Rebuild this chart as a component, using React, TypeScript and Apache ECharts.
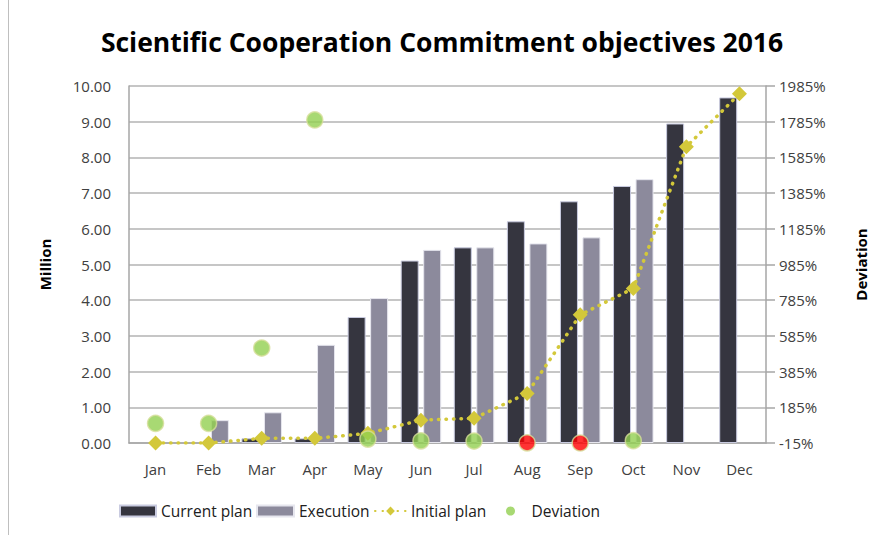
import React, { useEffect, useRef } from "react";
import * as echarts from "echarts";

const months = ["Jan", "Feb", "Mar", "Apr", "May", "Jun", "Jul", "Aug", "Sep", "Oct", "Nov", "Dec"];
const currentPlan = [null, null, 0.13, 0.13, 3.53, 5.11, 5.48, 6.21, 6.77, 7.2, 8.95, 9.68];
const execution = [null, 0.64, 0.86, 2.75, 4.06, 5.41, 5.48, 5.59, 5.76, 7.39, null, null];
const initialPlan = [0, 0, 0.13, 0.13, 0.27, 0.64, 0.69, 1.39, 3.59, 4.33, 8.3, 9.78];
const deviation = [95, 95, 517, 1795, 7, -3, -4, -14, -15, -2, null, null];
const leftTicks = [0, 1, 2, 3, 4, 5, 6, 7, 8, 9, 10];
const rightMin = -15;
const rightMax = 1985;
const rightStep = 200;

const FONT = "'Open Sans', 'Noto Sans', sans-serif";
const DARK = "#35353f";
const GRAY = "#8c8a9c";
const YELLOW = "#d3c83a";
const GREEN = "#92d050";
const RED = "#ff0000";

export default function App() {
  const ref = useRef<HTMLDivElement>(null);
  useEffect(() => {
    if (!ref.current) return;
    const chart = echarts.init(ref.current, null, { renderer: "svg" });
    const shift = -rightMin;
    const legendText = { fontFamily: FONT, fontSize: 15.5, color: "#202020" };
    chart.setOption({
      animation: false,
      backgroundColor: "#ffffff",
      title: {
        text: "Scientific Cooperation Commitment objectives 2016",
        left: "center",
        top: 23,
        textStyle: { fontFamily: FONT, fontWeight: "bold", fontSize: 26.5, color: "#000000" },
      },
      graphic: [
        { type: "line", shape: { x1: 8.5, y1: 0, x2: 8.5, y2: 535 }, style: { stroke: "#bfbfbf", lineWidth: 1 } },
      ],
      legend: [
        {
          top: 503, left: 119, padding: 0, itemWidth: 36, itemHeight: 11, textStyle: legendText,
          data: [{ name: "Current plan", icon: "rect" }],
        },
        {
          top: 503, left: 256, padding: 0, itemWidth: 37, itemHeight: 11, textStyle: legendText,
          data: [{ name: "Execution", icon: "rect" }],
        },
        {
          top: 503, left: 374, padding: 0, itemWidth: 31, itemHeight: 11, textStyle: legendText,
          data: [{ name: "Initial plan" }],
        },
        {
          top: 503, left: 506, padding: 0, itemWidth: 32, itemHeight: 9, textStyle: legendText,
          data: [{ name: "Deviation", icon: "circle", itemStyle: { color: GREEN, borderWidth: 0 } }],
        },
      ],
      grid: { left: 129, right: 118, top: 86, bottom: 92, containLabel: false },
      xAxis: {
        type: "category",
        data: months,
        axisLine: { lineStyle: { color: "#a6a6a6", width: 1.5 } },
        axisTick: { show: false },
        axisLabel: { fontFamily: FONT, fontSize: 15, color: "#404040", margin: 18 },
      },
      yAxis: [
        {
          type: "value",
          min: leftTicks[0],
          max: leftTicks[leftTicks.length - 1],
          interval: 1,
          name: "Million",
          nameLocation: "middle",
          nameGap: 77,
          nameRotate: 90,
          nameTextStyle: { fontFamily: FONT, fontWeight: "bold", fontSize: 15, color: "#000" },
          axisLine: { show: true, lineStyle: { color: "#a6a6a6", width: 1.5 } },
          axisTick: { show: false },
          axisLabel: { fontFamily: FONT, fontSize: 15, color: "#404040", margin: 18, formatter: (v: number) => v.toFixed(2) },
          splitLine: { lineStyle: { color: "#b3b3b3", width: 1.5 } },
        },
        {
          type: "value",
          min: 0,
          max: rightMax - rightMin,
          interval: rightStep,
          name: "Deviation",
          nameLocation: "middle",
          nameGap: 87,
          nameRotate: 90,
          nameTextStyle: { fontFamily: FONT, fontWeight: "bold", fontSize: 15, color: "#000" },
          axisLine: { show: true, lineStyle: { color: "#a6a6a6", width: 1.5 } },
          axisTick: { show: true, length: 9, lineStyle: { color: "#a6a6a6", width: 1.5 } },
          axisLabel: { fontFamily: FONT, fontSize: 15, color: "#404040", margin: 13, formatter: (v: number) => `${v - shift}%` },
          splitLine: { show: false },
        },
      ],
      series: [
        {
          name: "Current plan",
          type: "bar",
          data: currentPlan,
          barWidth: 18,
          barGap: "25%",
          itemStyle: { color: DARK, borderColor: "#c9cbe0", borderWidth: 1 },
        },
        {
          name: "Execution",
          type: "bar",
          data: execution,
          barWidth: 18,
          itemStyle: { color: GRAY, borderColor: "#e6e6ee", borderWidth: 1 },
        },
        {
          name: "Initial plan",
          type: "line",
          data: initialPlan,
          symbol: "diamond",
          symbolSize: 15,
          itemStyle: { color: YELLOW },
          lineStyle: { color: YELLOW, width: 3.5, type: [0.5, 7], cap: "round" },
          z: 3,
        },
        {
          name: "Deviation",
          type: "scatter",
          yAxisIndex: 1,
          data: deviation.map((v) => (v === null ? null : v + shift)),
          symbolSize: 16,
          itemStyle: {
            color: (p: any) => (p.value - shift < -10 ? RED : GREEN),
            borderColor: "#d6df9a",
            borderWidth: 1.5,
          },
          z: 4,
        },
      ],
    });
    return () => chart.dispose();
  }, []);
  return <div ref={ref} style={{ position: "fixed", left: 0, top: 0, width: 884, height: 535 }} />;
}
